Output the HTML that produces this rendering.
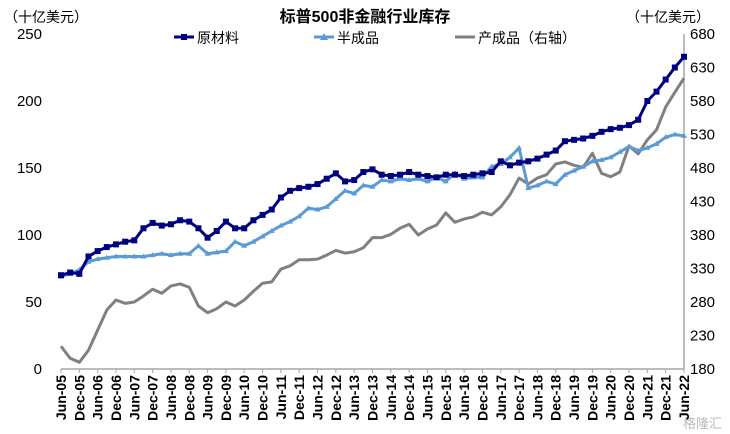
<!DOCTYPE html>
<html><head><meta charset="utf-8"><style>
body{margin:0;background:#fff;}
svg{display:block;font-family:"Liberation Sans","Noto Sans CJK SC",sans-serif;}
</style></head><body>
<svg id="c" width="730" height="434">
<text x="365" y="22" text-anchor="middle" font-size="16" font-weight="bold" fill="#000">标普500非金融行业库存</text>
<text x="4" y="22" font-size="14" fill="#000">（十亿美元）</text>
<text x="626" y="22" font-size="14" fill="#000">（十亿美元）</text>
<g>
<g><line x1="174" y1="37" x2="194" y2="37" stroke="#000080" stroke-width="3"/><rect x="181" y="34" width="6" height="6" fill="#000080"/><text x="197" y="43" font-size="14">原材料</text></g>
<g><line x1="314" y1="37" x2="334" y2="37" stroke="#5b9bd5" stroke-width="3"/><polygon points="324,33 328,40 320,40" fill="#5b9bd5"/><text x="337" y="43" font-size="14">半成品</text></g>
<g><line x1="455" y1="37" x2="475" y2="37" stroke="#808080" stroke-width="3"/><text x="478" y="43" font-size="14">产成品（右轴）</text></g>
</g>
<g id="axes"></g>
<g id="series"></g>
<text x="722" y="428" text-anchor="end" font-size="13" fill="#bbb">格隆汇</text>
</svg>
<script>
const tickLabelsX=["Jun-05","Dec-05","Jun-06","Dec-06","Jun-07","Dec-07","Jun-08","Dec-08","Jun-09","Dec-09","Jun-10","Dec-10","Jun-11","Dec-11","Jun-12","Dec-12","Jun-13","Dec-13","Jun-14","Dec-14","Jun-15","Dec-15","Jun-16","Dec-16","Jun-17","Dec-17","Jun-18","Dec-18","Jun-19","Dec-19","Jun-20","Dec-20","Jun-21","Dec-21","Jun-22"];
const leftTicks=[0,50,100,150,200,250];
const rightTicks=[180,230,280,330,380,430,480,530,580,630,680];
const rawMaterials=[70,72,71,84,88,91,93,95,96,105,109,107,108,111,110,105,98,103,110,105,105,111,115,119,128,133,135,136,138,142,146,140,141,147,149,145,144,145,147,145,144,143,145,145,144,145,146,147,155,152,154,155,157,160,163,170,171,172,174,177,179,180,182,186,200,207,216,225,233];
const semiFinished=[69,71,74,80,82,83,84,84,84,84,85,86,85,86,86,92,86,87,88,95,92,95,99,103,107,110,114,120,119,121,127,133,131,137,136,141,140,142,141,142,140,143,140,146,142,143,143,151,153,158,165,135,137,140,138,145,148,151,155,156,158,162,166,163,165,168,173,175,174];
const finished=[214,196,190,208,238,268,283,278,280,289,299,293,304,307,302,274,264,270,280,274,283,296,308,310,329,334,343,343,344,350,357,353,355,361,376,376,381,390,396,380,389,395,413,399,404,407,414,410,422,440,465,456,465,470,486,489,484,481,502,472,467,474,513,501,522,537,571,593,614];
const X0=61,X1=684,Y0=369,Y1=34;
const xs=i=>X0+i*(X1-X0)/68;
const yL=v=>Y0-(v-0)/250*(Y0-Y1);
const yR=v=>Y0-(v-180)/500*(Y0-Y1);
const NS="http://www.w3.org/2000/svg";
const ax=document.getElementById('axes'),se=document.getElementById('series');
function mk(t,a,p){const e=document.createElementNS(NS,t);for(const k in a)e.setAttribute(k,a[k]);p.appendChild(e);return e;}
let e=mk('line',{x1:X0,y1:Y0,x2:X1,y2:Y0,stroke:'#a6a6a6','stroke-width':1.5},ax);


e=mk('line',{x1:X1,y1:Y1,x2:X1,y2:Y0,stroke:'#a6a6a6','stroke-width':1.5},ax);


for(let i=0;i<=68;i+=2){mk('line',{x1:xs(i),y1:Y0,x2:xs(i),y2:Y0+4,stroke:'#a6a6a6'},ax);}
tickLabelsX.forEach((t,k)=>{const x=xs(k*2);const tx=mk('text',{x:0,y:0,'font-size':14,'font-weight':'bold','text-anchor':'end',transform:`translate(${x+5},${Y0+6}) rotate(-90)`},ax);tx.textContent=t;

});
leftTicks.forEach(v=>{const tx=mk('text',{x:42,y:yL(v)+5,'font-size':15,'text-anchor':'end'},ax);tx.textContent=v;

});
rightTicks.forEach(v=>{const tx=mk('text',{x:690,y:yR(v)+5,'font-size':15},ax);tx.textContent=v;

});
function line(data,yf,col,name){const p=mk('polyline',{points:data.map((v,i)=>xs(i)+','+yf(v)).join(' '),fill:'none',stroke:col,'stroke-width':3,'stroke-linejoin':'round'},se);

}
line(finished,yR,'#808080','finished-goods-line');
line(semiFinished,yL,'#5b9bd5','semi-finished-line');
semiFinished.forEach((v,i)=>{const x=xs(i),y=yL(v);const m=mk('polygon',{points:`${x},${y-3} ${x+3},${y+2} ${x-3},${y+2}`,fill:'#5b9bd5'},se);

});
line(rawMaterials,yL,'#000080','raw-materials-line');
rawMaterials.forEach((v,i)=>{const m=mk('rect',{x:xs(i)-3,y:yL(v)-3,width:6,height:6,fill:'#000080'},se);

});
</script>
</body></html>
